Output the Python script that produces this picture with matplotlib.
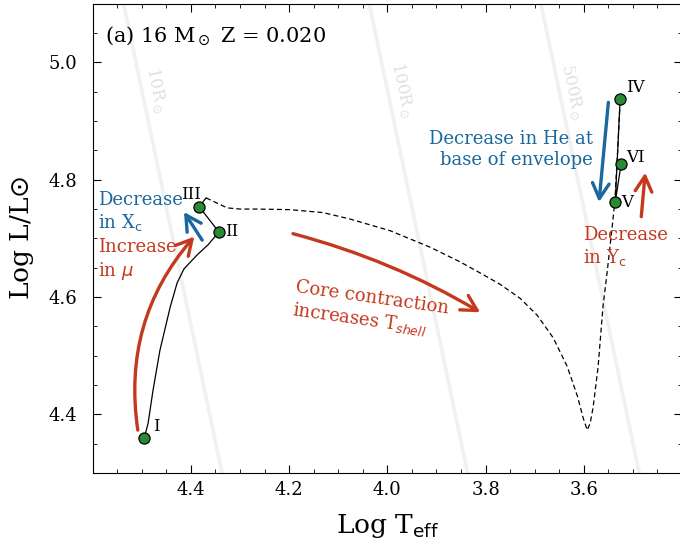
import numpy as np
import matplotlib
matplotlib.use("Agg")
import matplotlib.pyplot as plt

plt.rcParams['font.family'] = ['DejaVu Serif']
plt.rcParams['mathtext.fontset'] = 'dejavusans'

# Evolutionary track, 16 Msun, Z = 0.020 (log Teff, log L)
ms_T = [4.495, 4.487, 4.477, 4.463, 4.442, 4.428, 4.414, 4.387, 4.365, 4.343, 4.383, 4.369]
ms_L = [4.359, 4.385, 4.441, 4.509, 4.583, 4.624, 4.648, 4.672, 4.689, 4.711, 4.754, 4.769]

hg_T = [4.369, 4.326, 4.300, 4.265, 4.198, 4.131, 4.076, 3.994, 3.913, 3.852, 3.811,
        3.771, 3.730, 3.695, 3.662, 3.634, 3.613, 3.601, 3.593, 3.587, 3.581, 3.571,
        3.561, 3.552, 3.544, 3.537, 3.531, 3.526]
hg_L = [4.769, 4.752, 4.750, 4.750, 4.749, 4.744, 4.733, 4.713, 4.685, 4.660, 4.641,
        4.622, 4.598, 4.569, 4.530, 4.482, 4.431, 4.393, 4.373, 4.385, 4.412, 4.480,
        4.583, 4.646, 4.706, 4.761, 4.851, 4.937]

loop_T = [3.526, 3.536, 3.524]
loop_L = [4.937, 4.762, 4.827]

# Marked points
pt_T = [4.495, 4.343, 4.383, 3.526, 3.536, 3.524]
pt_L = [4.359, 4.711, 4.754, 4.937, 4.762, 4.827]
pt_lab = ['I', 'II', 'III', 'IV', 'V', 'VI']
pt_off = [(9, 12), (6, 0), (2, 12), (6, 12), (6, 0), (5, 6)]
pt_ha = ['left', 'left', 'right', 'left', 'left', 'left']

# Constant-radius lines
radii = [10, 100, 500]
rad_lab_T = [4.470, 3.970, 3.624]
rad_lab_L = [4.953, 4.953, 4.950]
logTsun = 3.7617

red = '#c4391d'
blue = '#1b679f'

fig = plt.figure(figsize=(6.8, 5.48), dpi=100)
ax = fig.add_axes([0.1362, 0.137, 0.8668, 0.856])

# radius lines
Lr = np.array([4.3, 5.1])
for R, tx, ly in zip(radii, rad_lab_T, rad_lab_L):
    Tr = logTsun + (Lr - 2 * np.log10(R)) / 4
    ax.plot(Tr, Lr, color='#f1f1f1', lw=2.6, zorder=0)
    ax.text(tx, ly, f'{R}R$_\\odot$', rotation=-78, color='#e0e0e0', fontsize=12,
            ha='center', va='center', rotation_mode='anchor')

ax.plot(ms_T, ms_L, color='k', lw=0.9, zorder=2)
ax.plot(hg_T, hg_L, color='k', lw=0.9, ls=(0, (4, 2.5)), zorder=2)
ax.plot(loop_T, loop_L, color='k', lw=0.9, zorder=2)
ax.plot(pt_T, pt_L, 'o', ms=8, mfc='#2a8a34', mec='k', mew=0.9, zorder=4)

for t, l, s, off, ha in zip(pt_T, pt_L, pt_lab, pt_off, pt_ha):
    ax.annotate(s, (t, l), xytext=off, textcoords='offset pixels', ha=ha,
                va='center', fontsize=12)

def arrow(tail, tip, color, rad=0.0):
    ax.annotate('', xy=tip, xytext=tail,
                arrowprops=dict(arrowstyle='->,head_length=0.55,head_width=0.3',
                                color=color, lw=2.4, shrinkA=0, shrinkB=0,
                                mutation_scale=20,
                                connectionstyle=f'arc3,rad={rad}'))

arrow((4.508, 4.373), (4.393, 4.703), red, -0.23)
arrow((4.377, 4.697), (4.414, 4.745), blue)
arrow((4.192, 4.708), (3.811, 4.574), red, -0.07)
arrow((3.550, 4.932), (3.569, 4.762), blue)
arrow((3.483, 4.737), (3.475, 4.812), red)

ax.text(4.589, 4.745, 'Decrease\nin X$_{\\rm c}$', color=blue, fontsize=13,
        ha='left', va='center')
ax.text(4.589, 4.663, 'Increase\nin $\\mu$', color=red, fontsize=13,
        ha='left', va='center')
ax.text(3.581, 4.851, 'Decrease in He at\nbase of envelope', color=blue, fontsize=13,
        ha='right', va='center', multialignment='right')
ax.text(3.601, 4.685, 'Decrease\nin Y$_{\\rm c}$', color=red, fontsize=13,
        ha='left', va='center')
ax.text(4.035, 4.578, 'Core contraction\nincreases T$_{shell}$', color=red, fontsize=13,
        ha='center', va='center', rotation=-8, rotation_mode='anchor',
        multialignment='left')

ax.text(0.021, 0.93, '(a) 16 M$_\\odot$ Z = 0.020', transform=ax.transAxes,
        fontsize=15, ha='left', va='center')

ax.set_xlim(4.6, 3.4)
ax.set_ylim(4.3, 5.1)
ax.set_xticks([4.4, 4.2, 4.0, 3.8, 3.6])
ax.set_yticks([4.4, 4.6, 4.8, 5.0])
ax.xaxis.set_minor_locator(plt.MultipleLocator(0.05))
ax.yaxis.set_minor_locator(plt.MultipleLocator(0.05))
ax.tick_params(which='both', direction='in', top=True, right=True, labelsize=13)
ax.tick_params(which='major', length=6)
ax.tick_params(which='minor', length=3)
ax.tick_params(axis='y', which='major', pad=11)
ax.tick_params(axis='x', which='major', pad=6)
ax.set_xlabel('Log T$_{\\rm eff}$', fontsize=19, labelpad=9)
ax.set_ylabel('Log L/L$\\odot$', fontsize=19, labelpad=9)

fig.savefig('out.png', dpi=100)
